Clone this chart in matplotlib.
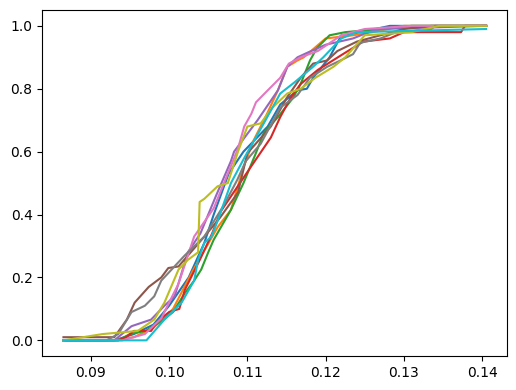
import matplotlib
matplotlib.use("Agg")
import matplotlib.pyplot as plt

# (x, cumulative fraction) knots, one pair of lists per series
blue_x = [0.0865, 0.093, 0.0955, 0.098, 0.100, 0.1025, 0.1045, 0.1057, 0.1076, 0.1095, 0.1126, 0.1142, 0.1164, 0.1176, 0.1184, 0.1205, 0.122, 0.1245, 0.1282, 0.1405]
blue_y = [0.0, 0.0, 0.02, 0.05, 0.11, 0.20, 0.31, 0.40, 0.53, 0.60, 0.68, 0.75, 0.795, 0.80, 0.835, 0.90, 0.97, 0.98, 1.0, 1.0]

orange_x = [0.0865, 0.093, 0.0955, 0.098, 0.1005, 0.103, 0.1062, 0.1079, 0.1095, 0.1108, 0.1125, 0.1139, 0.1151, 0.1164, 0.1172, 0.120, 0.1235, 0.126, 0.130, 0.1405]
orange_y = [0.0, 0.0, 0.01, 0.04, 0.10, 0.22, 0.36, 0.415, 0.55, 0.636, 0.72, 0.795, 0.87, 0.89, 0.90, 0.96, 0.97, 0.98, 1.0, 1.0]

green_x = [0.0865, 0.0935, 0.095, 0.097, 0.099, 0.1005, 0.102, 0.1032, 0.1041, 0.105, 0.1057, 0.1079, 0.1095, 0.111, 0.1121, 0.1139, 0.1158, 0.1168, 0.118, 0.1189, 0.1205, 0.1225, 0.127, 0.131, 0.1405]
green_y = [0.0, 0.0, 0.02, 0.03, 0.06, 0.09, 0.15, 0.19, 0.225, 0.28, 0.32, 0.415, 0.50, 0.59, 0.66, 0.71, 0.77, 0.815, 0.89, 0.93, 0.97, 0.98, 0.99, 1.0, 1.0]

red_x = [0.0865, 0.0935, 0.0945, 0.0955, 0.0977, 0.0985, 0.100, 0.1013, 0.102, 0.104, 0.1055, 0.1066, 0.1085, 0.1104, 0.113, 0.1142, 0.1155, 0.1168, 0.119, 0.1222, 0.1248, 0.1282, 0.130, 0.1373, 0.1378, 0.1405]
red_y = [0.0, 0.0, 0.01, 0.03, 0.03, 0.06, 0.09, 0.10, 0.16, 0.26, 0.34, 0.41, 0.48, 0.55, 0.645, 0.71, 0.77, 0.815, 0.86, 0.91, 0.95, 0.96, 0.98, 0.98, 1.0, 1.0]

purple_x = [0.0865, 0.093, 0.0952, 0.0977, 0.0994, 0.1007, 0.1024, 0.104, 0.106, 0.1079, 0.1083, 0.1113, 0.1139, 0.1151, 0.1164, 0.1177, 0.120, 0.1235, 0.1255, 0.127, 0.1405]
purple_y = [0.0, 0.0, 0.045, 0.066, 0.11, 0.14, 0.28, 0.34, 0.46, 0.57, 0.60, 0.70, 0.795, 0.87, 0.90, 0.915, 0.94, 0.96, 0.98, 0.99, 1.0]

brown_x = [0.0865, 0.093, 0.0946, 0.0956, 0.0974, 0.099, 0.0999, 0.1012, 0.1045, 0.1065, 0.1088, 0.110, 0.113, 0.115, 0.1168, 0.1184, 0.1202, 0.1215, 0.124, 0.127, 0.130, 0.1335, 0.1405]
brown_y = [0.01, 0.01, 0.066, 0.12, 0.17, 0.20, 0.23, 0.235, 0.33, 0.39, 0.47, 0.595, 0.68, 0.77, 0.835, 0.88, 0.89, 0.92, 0.95, 0.97, 0.99, 1.0, 1.0]

pink_x = [0.0865, 0.094, 0.0969, 0.099, 0.1012, 0.1032, 0.1057, 0.1075, 0.1088, 0.1096, 0.1105, 0.1111, 0.1126, 0.1142, 0.1153, 0.1168, 0.119, 0.122, 0.125, 0.131, 0.1405]
pink_y = [0.0, 0.0, 0.02, 0.07, 0.18, 0.33, 0.42, 0.53, 0.61, 0.68, 0.72, 0.757, 0.795, 0.835, 0.88, 0.90, 0.92, 0.97, 0.99, 1.0, 1.0]

gray_x = [0.0865, 0.092, 0.0935, 0.0952, 0.0969, 0.0981, 0.099, 0.1005, 0.102, 0.1045, 0.107, 0.1087, 0.1098, 0.1117, 0.1142, 0.1164, 0.118, 0.1202, 0.1219, 0.1235, 0.1244, 0.127, 0.129, 0.1335, 0.134, 0.1405]
gray_y = [0.0, 0.0, 0.02, 0.09, 0.11, 0.14, 0.19, 0.23, 0.27, 0.33, 0.43, 0.51, 0.57, 0.625, 0.74, 0.78, 0.835, 0.87, 0.89, 0.91, 0.946, 0.96, 0.98, 0.99, 1.0, 1.0]

olive_x = [0.0865, 0.089, 0.0915, 0.096, 0.0981, 0.0994, 0.1012, 0.1024, 0.1037, 0.1039, 0.1045, 0.1062, 0.1075, 0.1088, 0.110, 0.1117, 0.1132, 0.1151, 0.1168, 0.1187, 0.121, 0.1225, 0.125, 0.131, 0.1345, 0.1405]
olive_y = [0.0, 0.01, 0.02, 0.03, 0.066, 0.12, 0.225, 0.256, 0.28, 0.44, 0.45, 0.49, 0.50, 0.60, 0.68, 0.69, 0.74, 0.785, 0.80, 0.835, 0.87, 0.90, 0.97, 0.98, 1.0, 1.0]

cyan_x = [0.0865, 0.0971, 0.0994, 0.1016, 0.1032, 0.1037, 0.1045, 0.1054, 0.1062, 0.1079, 0.1096, 0.1121, 0.1142, 0.116, 0.1184, 0.1197, 0.122, 0.124, 0.1405]
cyan_y = [0.0, 0.0, 0.066, 0.12, 0.19, 0.256, 0.31, 0.33, 0.38, 0.50, 0.58, 0.69, 0.785, 0.82, 0.87, 0.90, 0.96, 0.98, 0.99]

series = [
    (blue_x, blue_y), (orange_x, orange_y), (green_x, green_y), (red_x, red_y),
    (purple_x, purple_y), (brown_x, brown_y), (pink_x, pink_y), (gray_x, gray_y),
    (olive_x, olive_y), (cyan_x, cyan_y),
]

fig = plt.figure(figsize=(5.16, 3.9), dpi=100)
ax = fig.add_axes([0.082, 0.087, 0.901, 0.887])
for xs, ys in series:
    ax.plot(xs, ys)

fig.savefig("out.png", dpi=100)
